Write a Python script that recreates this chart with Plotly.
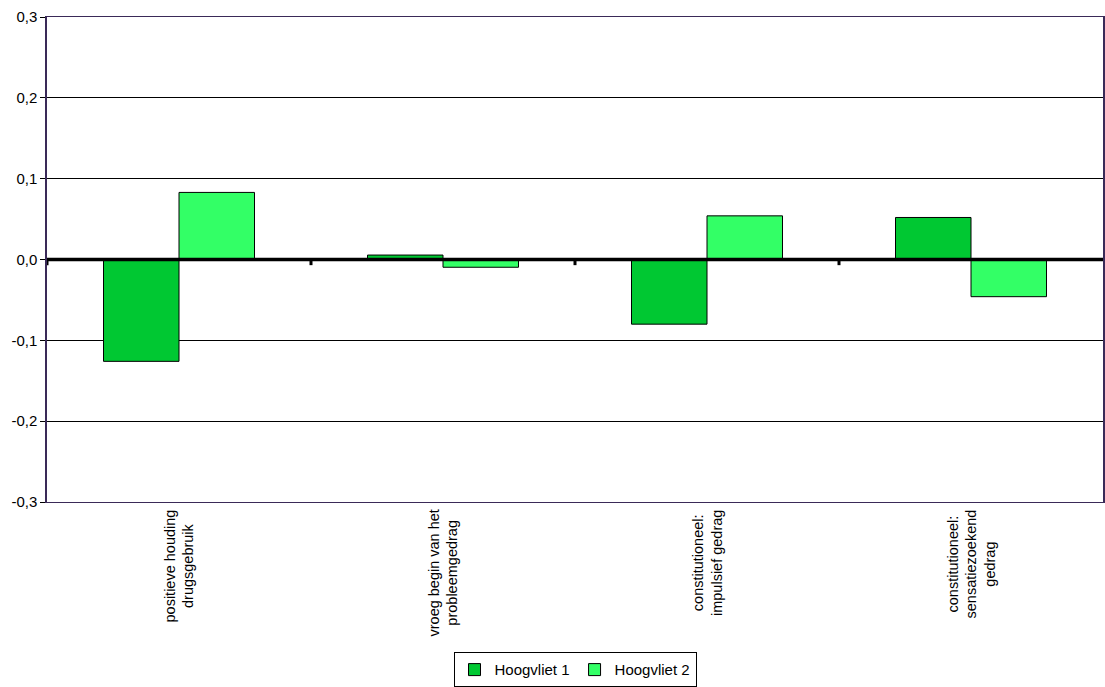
import plotly.graph_objects as go

categories = [
    "positieve houding<br>drugsgebruik",
    "vroeg begin van het<br>probleemgedrag",
    "constitutioneel:<br>impulsief gedrag",
    "constitutioneel:<br>sensatiezoekend<br>gedrag",
]
series_names = ["Hoogvliet 1", "Hoogvliet 2"]
hoogvliet1 = [-0.126, 0.0055, -0.080, 0.052]
hoogvliet2 = [0.083, -0.0096, 0.054, -0.046]
y_ticks = [-0.3, -0.2, -0.1, 0.0, 0.1, 0.2, 0.3]
y_tick_labels = ["-0,3", "-0,2", "-0,1", "0,0", "0,1", "0,2", "0,3"]
colors = ["#00C832", "#33FF66"]

FONT = "Liberation Sans, Arial, sans-serif"

fig = go.Figure()
for name, vals, col in zip(series_names, [hoogvliet1, hoogvliet2], colors):
    fig.add_trace(go.Bar(
        x=list(range(len(categories))), y=vals, name=name,
        marker=dict(color=col, line=dict(color="#000000", width=1)),
    ))

frame = "#3A2A58"
fig.update_layout(
    width=1105, height=687,
    margin=dict(l=47, r=2, t=17, b=185, autoexpand=False),
    paper_bgcolor="white", plot_bgcolor="white",
    barmode="group", bargap=0.428, bargroupgap=0,
    font=dict(family=FONT, size=14, color="black"),
    showlegend=True,
    legend=dict(
        orientation="h", x=0.5, xanchor="center", y=-0.31, yanchor="top",
        bordercolor="black", borderwidth=1, bgcolor="white",
        font=dict(size=15), itemwidth=30, tracegroupgap=0,
    ),
)
fig.update_xaxes(
    type="linear", range=[-0.5, len(categories) - 0.5],
    showticklabels=False, ticks="", showgrid=False, zeroline=False,
    showline=True, linecolor=frame, linewidth=1, mirror=True, automargin=False,
)
fig.update_yaxes(
    range=[-0.3, 0.3], tickmode="array", tickvals=y_ticks, ticktext=y_tick_labels,
    ticks="outside", ticklen=5, tickcolor="black",
    showgrid=True, gridcolor="black", gridwidth=1,
    zeroline=False, showline=True, linecolor=frame, linewidth=1.5, mirror=True,
    tickfont=dict(size=15), automargin=False,
)

# category labels, rotated and centred
for i, lab in enumerate(categories):
    fig.add_annotation(
        x=i, xref="x", y=0, yref="paper", yanchor="top", xanchor="center",
        yshift=-6, text=lab, textangle=-90, align="center", showarrow=False,
        font=dict(size=14.5, family=FONT),
    )

# thick zero line and its small tick marks at the category boundaries
fig.add_shape(type="line", xref="paper", yref="y", x0=0, x1=1, y0=0, y1=0,
              line=dict(color="black", width=3.5), layer="above")
for i in range(len(categories)):
    b = i - 0.5
    fig.add_shape(type="line", xref="x", yref="y", x0=b, x1=b, y0=0, y1=-0.007,
                  line=dict(color="black", width=3), layer="above")

fig.write_html(
    "out.html",
    config={"responsive": False, "displayModeBar": False},
    post_script="document.body.style.margin='0';document.body.style.overflow='hidden';",
)
